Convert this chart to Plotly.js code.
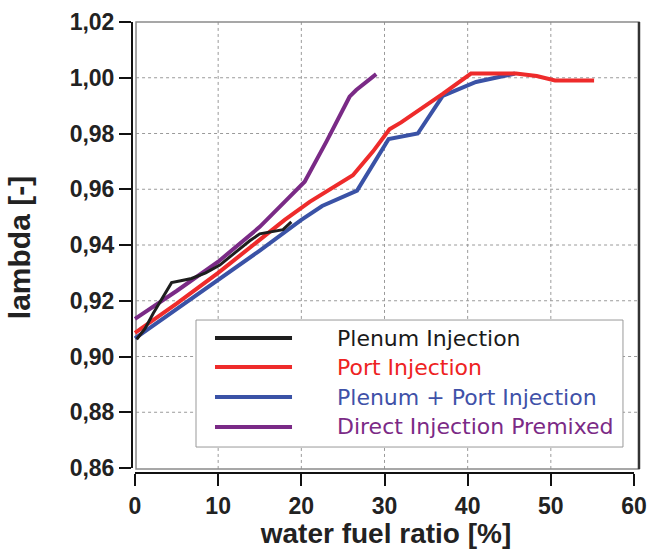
<!DOCTYPE html>
<html>
<head>
<meta charset="utf-8">
<script src="https://cdn.plot.ly/plotly-3.0.1.min.js"></script>
<style>html,body{margin:0;padding:0;background:#fff;}#chart{width:654px;height:549px;}</style>
</head>
<body>
<div id="chart"></div>
<script>
// ---- data ----
const seriesNames = ["Plenum Injection", "Port Injection", "Plenum + Port Injection", "Direct Injection Premixed"];

const plenumX = [0.2, 1.2, 2.2, 3.3, 4.4, 5.5, 6.8, 8.5, 10.2, 12, 13.8, 15, 16.5, 17.8, 18.8];
const plenumY = [0.9062, 0.910, 0.9155, 0.921, 0.9265, 0.9272, 0.928, 0.930, 0.9328, 0.9372, 0.9415, 0.944, 0.9448, 0.9455, 0.9483];

const portX = [0, 5, 10, 15, 18, 21, 24, 26.2, 28.6, 30.6, 32, 34, 37, 40.4, 45.8, 48.3, 50.5, 55.2];
const portY = [0.9085, 0.919, 0.930, 0.942, 0.949, 0.9555, 0.961, 0.965, 0.9735, 0.9815, 0.984, 0.988, 0.9942, 1.0015, 1.0015, 1.0006, 0.999, 0.999];

const plenumPortX = [0, 5, 10, 15, 20, 22.5, 26.7, 28.5, 30.5, 34, 37, 41, 45.7];
const plenumPortY = [0.9065, 0.917, 0.9275, 0.938, 0.949, 0.954, 0.9595, 0.968, 0.978, 0.980, 0.9935, 0.9985, 1.0015];

const directX = [0, 5, 10, 15, 18.2, 20.4, 23, 25.8, 26.6, 29];
const directY = [0.9135, 0.9235, 0.934, 0.9465, 0.9561, 0.9627, 0.977, 0.9932, 0.9956, 1.0013];

const xTicks = [0, 10, 20, 30, 40, 50, 60];
const yTicks = [0.86, 0.88, 0.90, 0.92, 0.94, 0.96, 0.98, 1.00, 1.02];
const xGrid = [10, 20, 30, 40, 50];
const yGrid = [0.88, 0.90, 0.92, 0.94, 0.96, 0.98, 1.00];

// ---- styles ----
const colors = ["#1e1e1e", "#ee2b2b", "#3a52a6", "#7a2a86"];
const textColors = ["#1a1a1a", "#ee2222", "#3f51a8", "#7b2a86"];
const widths = [3, 4, 4, 4];

const data = [
  {x: plenumPortX, y: plenumPortY, name: seriesNames[2], idx: 2},
  {x: portX, y: portY, name: seriesNames[1], idx: 1},
  {x: directX, y: directY, name: seriesNames[3], idx: 3},
  {x: plenumX, y: plenumY, name: seriesNames[0], idx: 0}
].map(s => ({
  x: s.x, y: s.y, name: s.name, type: "scatter", mode: "lines",
  line: {color: colors[s.idx], width: widths[s.idx]},
  showlegend: false, hoverinfo: "skip"
}));

const shapes = [];
// gridlines
xGrid.forEach(v => shapes.push({type: "line", layer: "below", xref: "x", yref: "paper", x0: v, x1: v, y0: 0.009, y1: 1, line: {color: "#9a9a9a", width: 1, dash: "dot"}}));
yGrid.forEach(v => shapes.push({type: "line", layer: "below", xref: "paper", yref: "y", x0: 0.008, x1: 0.998, y0: v, y1: v, line: {color: "#9a9a9a", width: 1, dash: "dot"}}));
// frame
shapes.push({type: "rect", layer: "below", xref: "paper", yref: "paper", x0: 0.0079, x1: 0.998, y0: 0.009, y1: 1, line: {color: "#8a8a8a", width: 1.5}});
shapes.push({type: "line", layer: "above", xref: "paper", yref: "paper", x0: 0.998, x1: 0.998, y0: 0.009, y1: 1, line: {color: "#333", width: 2.5}});
// axis lines (detached)
shapes.push({type: "line", layer: "above", xref: "x", yref: "paper", x0: xTicks[0], x1: xTicks[xTicks.length-1], y0: 0, y1: 0, line: {color: "#111", width: 2}});
shapes.push({type: "line", layer: "above", xref: "paper", yref: "y", x0: 0, x1: 0, y0: yTicks[0], y1: yTicks[yTicks.length-1], line: {color: "#111", width: 2}});

// legend (manual)
const legX0 = 0.126, legX1 = 0.9665, legY0 = 0.0576, legY1 = 0.3392;
shapes.push({type: "rect", layer: "above", xref: "paper", yref: "paper", x0: legX0, x1: legX1, y0: legY0, y1: legY1, fillcolor: "#fff", line: {color: "#999", width: 1}});
const rowY = [0.2993, 0.235, 0.1685, 0.102];
const annotations = [];
seriesNames.forEach((n, i) => {
  shapes.push({type: "line", layer: "above", xref: "paper", yref: "paper", x0: 0.1634, x1: 0.315, y0: rowY[i], y1: rowY[i], line: {color: colors[i], width: 4}});
  annotations.push({xref: "paper", yref: "paper", x: 0.4, y: rowY[i], xanchor: "left", yanchor: "middle", showarrow: false, text: n, font: {family: "DejaVu Sans", size: 22, color: textColors[i]}});
});

const tickFont = {family: "Liberation Sans", size: 23, color: "#222", weight: "bold"};
const layout = {
  width: 654, height: 549,
  margin: {l: 132, r: 14, t: 22, b: 76},
  paper_bgcolor: "#fff", plot_bgcolor: "#fff",
  separators: ",.",
  showlegend: false,
  xaxis: {
    range: [-0.36, 60.72], tickmode: "array", tickvals: xTicks, ticktext: xTicks.map(String),
    showgrid: false, zeroline: false, showline: false,
    ticks: "outside", ticklen: 12, tickwidth: 2, tickcolor: "#111",
    tickfont: tickFont,
    title: {text: "water fuel ratio [%]", font: {family: "Liberation Sans", size: 28, color: "#222", weight: "bold"}, standoff: 8}
  },
  yaxis: {
    range: [0.85821, 1.02], tickmode: "array", tickvals: yTicks, tickformat: ".2f",
    showgrid: false, zeroline: false, showline: false,
    ticks: "outside", ticklen: 12, tickwidth: 2, tickcolor: "#111",
    tickfont: tickFont,
    title: {text: "lambda [-]", font: {family: "Liberation Sans", size: 30, color: "#222", weight: "bold"}, standoff: 30}
  },
  shapes: shapes,
  annotations: annotations
};

Plotly.newPlot("chart", data, layout, {displayModeBar: false, staticPlot: true});
</script>
</body>
</html>
